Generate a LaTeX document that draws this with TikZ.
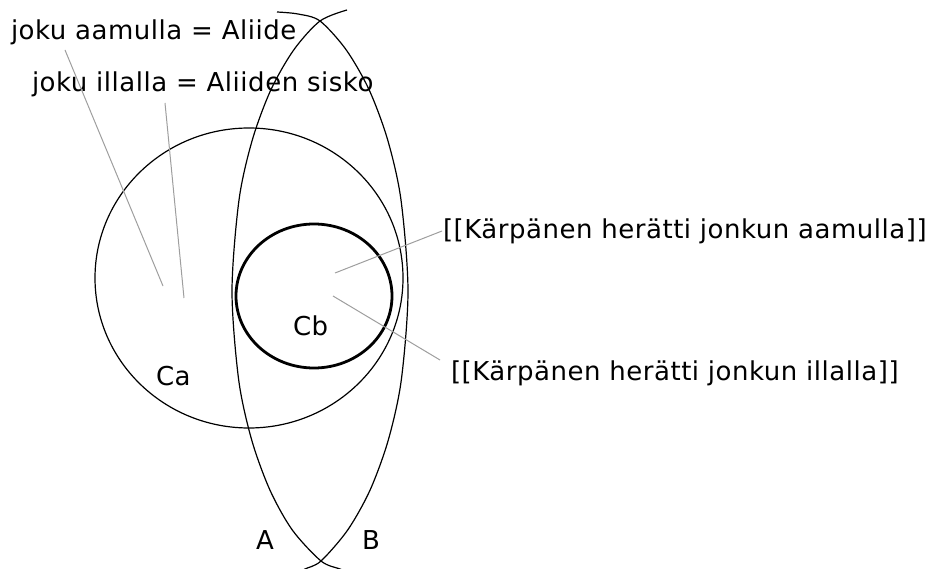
\documentclass[tikz,border=0pt]{standalone}
\usepackage{fontspec}
\setmainfont{DejaVu Sans}[LetterSpace=2]
\begin{document}
\begin{tikzpicture}[x=1pt,y=-1pt,
  every node/.style={inner sep=0pt,outer sep=0pt},
  lbl/.style={font=\fontsize{26}{30}\selectfont,anchor=base west},
  thinline/.style={line width=1.2pt,black},
  thickline/.style={line width=2.8pt,black},
  lead/.style={draw=black!38,line width=1pt}]
\useasboundingbox (0,0) rectangle (937,569);
\clip (0,0) rectangle (937,569);
% set circles
\draw[thinline] (249,278) ellipse[x radius=154,y radius=150];
\draw[thickline] (314,296) ellipse[x radius=78,y radius=72];
% arc A (bulging left)
\draw[thinline] plot[smooth] coordinates {(347,10) (320,21) (293.7,50) (270.8,90) (252.3,140) (239,200) (232,291) (238.7,380) (251.7,440) (269.9,490) (292.3,530) (321,561) (340,569) (350,573)};
% arc B (bulging right)
\draw[thinline] plot[smooth] coordinates {(277,12) (298,14) (320,21) (346.3,50) (369.2,90) (387.7,140) (401,200) (408,291) (401.3,380) (388.3,440) (370.1,490) (347.7,530) (321,561) (305,569) (297,574)};
% texts
\node[lbl] (t1) at (11,40) {joku aamulla = Aliide};
\node[lbl] (t2) at (32,92) {joku illalla = Aliiden sisko};
\node[lbl] (t3) at (443,239) {[[Kärpänen herätti jonkun aamulla]]};
\node[lbl] (t4) at (451,380) {[[Kärpänen herätti jonkun illalla]]};
\node[lbl] (ca) at (156,385) {Ca};
\node[lbl] (cb) at (293,335) {Cb};
\node[lbl] (la) at (256,549) {A};
\node[lbl] (lb) at (362,549) {B};
% leader lines
\coordinate (l1s) at (65,50);   \coordinate (l1e) at (163,286);
\coordinate (l2s) at (165,103); \coordinate (l2e) at (184,298);
\coordinate (l3s) at (442,231); \coordinate (l3e) at (335,273);
\coordinate (l4s) at (333,296); \coordinate (l4e) at (440,360);
\draw[lead] (l1s) -- (l1e);
\draw[lead] (l2s) -- (l2e);
\draw[lead] (l3s) -- (l3e);
\draw[lead] (l4s) -- (l4e);
\end{tikzpicture}
\end{document}
